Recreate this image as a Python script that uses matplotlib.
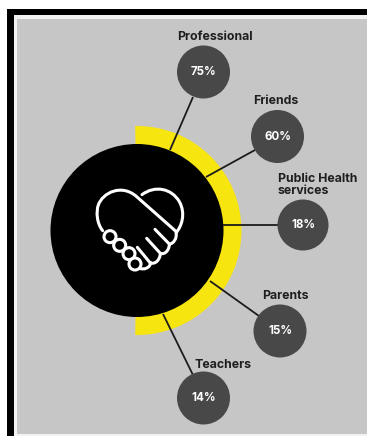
import numpy as np
import matplotlib
matplotlib.use("Agg")
import matplotlib.pyplot as plt
from matplotlib.patches import Circle, Rectangle, Wedge
from matplotlib.path import Path
from matplotlib.patches import PathPatch

labels = ["Professional", "Friends", "Public Health\nservices", "Parents", "Teachers"]
values = [75, 60, 18, 15, 14]

# bubble layout in pixels
bubble_x = [203.5, 277.5, 303, 280, 203.5]
bubble_y = [72, 136.5, 225, 331, 398]
bubble_r = [26.5, 26.5, 25.5, 26.5, 26.5]
label_x = [214.5, 276, 317.5, 285, 223]
label_y = [36.5, 100.5, 185, 295.5, 364.5]
line_start = [(193, 97), (255, 150), (278, 225), (259, 316), (193, 375)]
line_end = [(170, 150), (206, 177), (223, 225), (210, 281), (163, 314)]

center = (137, 230.5)
plt.rcParams["font.family"] = ["Inter", "DejaVu Sans"]

fig = plt.figure(figsize=(3.67, 4.36), dpi=100, facecolor="white")
ax = fig.add_axes([0, 0, 1, 1])
ax.set_xlim(0, 367)
ax.set_ylim(436, 0)
ax.axis("off")

# frame
ax.add_patch(Rectangle((7, 9), 360, 427, fc="black", ec="none", zorder=1))
ax.add_patch(Rectangle((14, 15), 353, 421, fc="#f2f2f2", ec="none", zorder=2))
ax.add_patch(Rectangle((17, 19), 350, 415, fc="#c6c6c6", ec="none", zorder=3))

# yellow half ring and the black disc on top of it
ax.add_patch(Wedge(center, 104.5, -91, 91, fc="#f7e510", ec="none", zorder=4))
ax.add_patch(Circle(center, 86.5, fc="black", ec="none", zorder=6))

for i in range(len(values)):
    ax.plot([line_start[i][0], line_end[i][0]], [line_start[i][1], line_end[i][1]],
            color="#1c1c1c", lw=1.3, zorder=7, solid_capstyle="butt")
    ax.add_patch(Circle((bubble_x[i], bubble_y[i]), bubble_r[i], fc="#484848", ec="none", zorder=8))
    ax.text(bubble_x[i], bubble_y[i], str(values[i]) + "%", color="white", fontsize=8.3,
            fontweight="bold", ha="center", va="center", zorder=9)
    ax.text(label_x[i], label_y[i], labels[i], color="#1f1f1f", fontsize=8.9, fontweight="bold",
            ha="center", va="center", ma="left", linespacing=0.9, zorder=9)


def hx(pts):
    # handshake sketch coordinates to pixels
    pts = np.array(pts, dtype=float)
    return np.column_stack([80 + pts[:, 0] / 3, 170 + pts[:, 1] / 3])


def stroke(pts, codes=None, lw=2.2):
    p = hx(pts)
    if codes is None:
        codes = [Path.MOVETO] + [Path.LINETO] * (len(p) - 1)
    ax.add_patch(PathPatch(Path(p, codes), fc="none", ec="white", lw=lw, capstyle="round",
                           joinstyle="round", zorder=10))


C = Path.CURVE4
M = Path.MOVETO
L = Path.LINETO
# left lobe of the heart, running into the diagonal wrist
stroke([(68, 182), (50, 160), (48, 125), (55, 105), (68, 68), (125, 40), (170, 80), (290, 186)],
       [M, C, C, C, C, C, C, L])
# right lobe and the scalloped edge of the upper hand
stroke([(186, 74), (225, 45), (275, 55), (298, 95), (318, 130), (305, 170), (288, 188),
        (292, 205), (280, 222), (268, 222),
        (268, 240), (255, 255), (241, 250),
        (240, 270), (225, 285), (210, 278)],
       [M, C, C, C, C, C, C, C, C, C, C, C, C, C, C, C])
# fingers of the lower hand
for cx, cy in [(90, 200), (119, 226), (147, 251), (165, 282)]:
    ax.add_patch(Circle((80 + cx / 3, 170 + cy / 3), 6.0, fc="black", ec="white", lw=2.2, zorder=10))
# fingers of the upper hand
stroke([(172, 232), (210, 278)])
stroke([(200, 205), (241, 250)])
stroke([(225, 178), (268, 222)])
stroke([(180, 295), (190, 300), (210, 295), (212, 278)], [M, C, C, C])

fig.savefig("out.png", dpi=100, facecolor="white")
